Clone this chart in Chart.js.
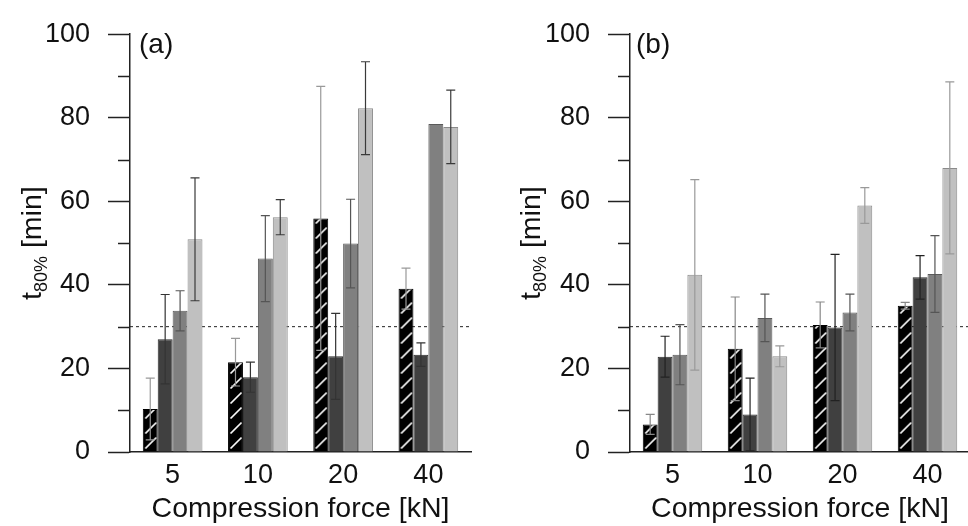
<!DOCTYPE html>
<html>
<head>
<meta charset="utf-8">
<script src="https://cdn.jsdelivr.net/npm/chart.js@4.4.0/dist/chart.umd.min.js"></script>
<style>
  html, body { margin: 0; padding: 0; background: #fff; overflow: hidden; }
  #wrap { position: relative; width: 968px; height: 526px; overflow: hidden; }
  canvas { position: absolute; top: 0; }
  #chartA { left: 0; }
  #chartB { left: 484px; }
</style>
</head>
<body>
<div id="wrap">
  <canvas id="chartA" width="484" height="526"></canvas>
  <canvas id="chartB" width="488" height="526"></canvas>
</div>
<script>
// categories
const forces = ["5", "10", "20", "40"];
const threshold = 30;
const yMax = 100;
const yStep = 10;

// panel (a): mean t80% per series, and +/- error
const aSeries1 = [10.3, 21.5, 55.9, 39.1];
const aSeries2 = [27.0, 17.9, 22.9, 23.3];
const aSeries3 = [33.8, 46.3, 49.9, 78.5];
const aSeries4 = [50.9, 56.2, 82.3, 77.8];
const aErr1 = [7.4, 5.7, 31.6, 4.9];
const aErr2 = [10.7, 3.6, 10.3, 2.8];
const aErr3 = [4.8, 10.3, 10.6, 0];
const aErr4 = [14.7, 4.2, 11.1, 8.8];

// panel (b)
const bSeries1 = [6.6, 24.7, 30.4, 35.0];
const bSeries2 = [22.8, 9.0, 29.8, 41.8];
const bSeries3 = [23.3, 32.1, 33.4, 42.6];
const bSeries4 = [42.4, 22.9, 59.0, 68.0];
const bErr1 = [2.4, 12.4, 5.5, 0.8];
const bErr2 = [4.9, 8.7, 17.5, 5.2];
const bErr3 = [7.2, 5.7, 4.4, 9.2];
const bErr4 = [22.8, 2.5, 4.3, 20.6];

const FONT = "'Liberation Sans', Arial, sans-serif";

function hatchPattern() {
  const c = document.createElement("canvas");
  c.width = 15;
  c.height = 15;
  const g = c.getContext("2d");
  g.fillStyle = "#000";
  g.fillRect(0, 0, 15, 15);
  g.strokeStyle = "#fff";
  g.lineWidth = 1.7;
  g.beginPath();
  g.moveTo(2.5, 13.5);
  g.lineTo(13.5, 2.5);
  g.stroke();
  return g.createPattern(c, "repeat");
}

const borders = ["#000", "#2a2a2a", "#5a5a5a", "#8a8a8a"];

// one hatch per bar so the stripes start at each bar's left edge
const hatchAlign = {
  id: "hatchAlign",
  beforeDatasetsDraw(chart) {
    const ds = chart.data.datasets[0];
    chart.getDatasetMeta(0).data.forEach((bar, j) => {
      ds.hatches[j].setTransform(new DOMMatrix().translate(bar.x - bar.width / 2, 0));
    });
  },
};

// threshold line behind bars
const thresholdLine = {
  id: "thresholdLine",
  beforeDatasetsDraw(chart) {
    const { ctx, chartArea } = chart;
    const y = chart.scales.y.getPixelForValue(threshold);
    ctx.save();
    ctx.strokeStyle = "#222";
    ctx.lineWidth = 1;
    ctx.setLineDash([3, 3]);
    ctx.beginPath();
    ctx.moveTo(chartArea.left, y);
    ctx.lineTo(chartArea.right, y);
    ctx.stroke();
    ctx.restore();
  },
};

const errorBars = {
  id: "errorBars",
  afterDatasetsDraw(chart) {
    const ctx = chart.ctx;
    const y = chart.scales.y;
    chart.data.datasets.forEach((ds, i) => {
      const meta = chart.getDatasetMeta(i);
      meta.data.forEach((bar, j) => {
        const e = ds.errors[j];
        if (!e) return;
        const top = y.getPixelForValue(ds.data[j] + e);
        const bot = y.getPixelForValue(ds.data[j] - e);
        ctx.save();
        ctx.strokeStyle = ds.errorColor;
        ctx.lineWidth = 1.2;
        ctx.beginPath();
        ctx.moveTo(bar.x, top);
        ctx.lineTo(bar.x, bot);
        ctx.moveTo(bar.x - 4.5, top);
        ctx.lineTo(bar.x + 4.5, top);
        ctx.moveTo(bar.x - 4.5, bot);
        ctx.lineTo(bar.x + 4.5, bot);
        ctx.stroke();
        ctx.restore();
      });
    });
  },
};

// minor y ticks, y title with subscript, panel letter
const decor = {
  id: "decor",
  afterDraw(chart, args, opts) {
    const { ctx, chartArea } = chart;
    const y = chart.scales.y;
    ctx.save();
    ctx.strokeStyle = "#222";
    ctx.lineWidth = 1.5;
    y.ticks.forEach((t) => {
      if (t.value % 20 === 0) return;
      const py = Math.round(y.getPixelForValue(t.value)) + 0.5;
      ctx.beginPath();
      ctx.moveTo(chartArea.left - 12, py);
      ctx.lineTo(chartArea.left, py);
      ctx.stroke();
    });

    ctx.fillStyle = "#111";
    ctx.font = "28px " + FONT;
    ctx.textBaseline = "middle";
    ctx.textAlign = "left";
    ctx.fillText(opts.label, chartArea.left + opts.labelDx, 45);

    const cy = (chartArea.top + chartArea.bottom) / 2;
    ctx.translate(opts.titleX, cy);
    ctx.rotate(-Math.PI / 2);
    ctx.textBaseline = "alphabetic";
    const main = "28.5px " + FONT;
    const sub = "18px " + FONT;
    ctx.font = main;
    const w1 = ctx.measureText("t").width;
    const w3 = ctx.measureText(" [min]").width;
    ctx.font = sub;
    const w2 = ctx.measureText("80%").width;
    let x = -(w1 + w2 + w3) / 2;
    ctx.font = main;
    ctx.fillText("t", x, 0);
    x += w1;
    ctx.font = sub;
    ctx.fillText("80%", x, 6);
    x += w2;
    ctx.font = main;
    ctx.fillText(" [min]", x, 0);
    ctx.restore();
  },
};

function makeChart(id, series, errors, errColors, box) {
  const hatches = forces.map(() => hatchPattern());
  new Chart(document.getElementById(id), {
    type: "bar",
    data: {
      labels: forces,
      datasets: series.map((s, i) => ({
        data: s,
        errors: errors[i],
        errorColor: errColors[i],
        hatches: hatches,
        backgroundColor:
          i === 0 ? (c) => hatches[c.dataIndex] : ["#404040", "#808080", "#c0c0c0"][i - 1],
        borderColor: borders[i],
        borderWidth: 1,
        categoryPercentage: 0.7,
        barPercentage: 1.0,
      })),
    },
    options: {
      responsive: false,
      animation: false,
      devicePixelRatio: 1,
      layout: { padding: { left: 0, top: 25, right: box.right, bottom: 0 } },
      plugins: {
        legend: { display: false },
        tooltip: { enabled: false },
        decor: { label: box.label, labelDx: box.labelDx, titleX: box.titleX },
      },
      scales: {
        x: {
          afterFit: (s) => { s.height = 74; },
          grid: { display: false, drawTicks: false },
          border: { display: true, color: "#222", width: 1.5 },
          ticks: { color: "#111", font: { family: FONT, size: 27 }, padding: 7 },
          title: {
            display: true,
            text: "Compression force [kN]",
            color: "#111",
            font: { family: FONT, size: 28.5 },
            padding: { top: 0, bottom: 0 },
          },
        },
        y: {
          min: 0,
          max: yMax,
          afterFit: (s) => { s.width = box.yWidth; },
          grid: {
            drawOnChartArea: false,
            tickLength: 22,
            tickWidth: 1.5,
            tickColor: (c) => (c.tick && c.tick.value % 20 === 0 ? "#222" : "rgba(0,0,0,0)"),
          },
          border: { display: true, color: "#222", width: 1.5 },
          ticks: {
            stepSize: yStep,
            padding: 18,
            color: "#111",
            font: { family: FONT, size: 27 },
            callback: (v) => (v % 20 === 0 ? v : ""),
          },
        },
      },
    },
    plugins: [hatchAlign, thresholdLine, errorBars, decor],
  });
}

makeChart(
  "chartA",
  [aSeries1, aSeries2, aSeries3, aSeries4],
  [aErr1, aErr2, aErr3, aErr4],
  ["#999", "#333", "#555", "#3a3a3a"],
  { right: 13, yWidth: 130, label: "(a)", labelDx: 9, titleX: 41 }
);

makeChart(
  "chartB",
  [bSeries1, bSeries2, bSeries3, bSeries4],
  [bErr1, bErr2, bErr3, bErr4],
  ["#888", "#222", "#555", "#999"],
  { right: 2, yWidth: 146, label: "(b)", labelDx: 6, titleX: 56 }
);
</script>
</body>
</html>
